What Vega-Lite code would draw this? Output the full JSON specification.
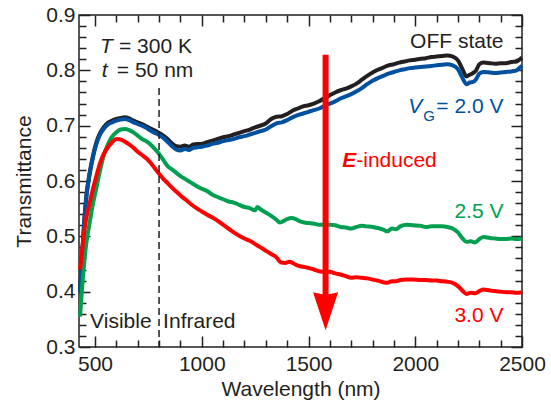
{
  "$schema": "https://vega.github.io/schema/vega-lite/v6.json",
  "width": 443,
  "height": 332,
  "autosize": "none",
  "padding": {"left": 79, "top": 15, "right": 29, "bottom": 59},
  "background": "white",
  "config": {
    "view": {"stroke": "#231f20", "strokeWidth": 1.5},
    "font": "Liberation Sans",
    "axis": {
      "domain": false,
      "grid": false,
      "tickColor": "#231f20",
      "tickWidth": 1.5,
      "labelColor": "#231f20",
      "labelFont": "Liberation Sans",
      "labelFontSize": 21,
      "titleFont": "Liberation Sans",
      "titleFontSize": 21,
      "titleFontWeight": "normal",
      "titleColor": "#231f20",
      "labelOverlap": false,
      "labelFlush": false,
      "labelBound": false
    }
  },
  "datasets": {
    "one": [{}],
    "curves": [
    {"s":"a","wl":430,"v":0.40},{"s":"a","wl":440,"v":0.47},{"s":"a","wl":450,"v":0.53},{"s":"a","wl":460,"v":0.575},{"s":"a","wl":475,"v":0.615},{"s":"a","wl":490,"v":0.645},{"s":"a","wl":505,"v":0.668},{"s":"a","wl":520,"v":0.684},{"s":"a","wl":540,"v":0.697},{"s":"a","wl":560,"v":0.705},{"s":"a","wl":580,"v":0.709},{"s":"a","wl":600,"v":0.712},{"s":"a","wl":620,"v":0.714},{"s":"a","wl":640,"v":0.715},{"s":"a","wl":660,"v":0.713},{"s":"a","wl":680,"v":0.709},{"s":"a","wl":700,"v":0.706},{"s":"a","wl":720,"v":0.703},{"s":"a","wl":740,"v":0.699},{"s":"a","wl":760,"v":0.695},{"s":"a","wl":780,"v":0.691},{"s":"a","wl":800,"v":0.687},{"s":"a","wl":820,"v":0.682},{"s":"a","wl":840,"v":0.676},{"s":"a","wl":860,"v":0.668},{"s":"a","wl":880,"v":0.663},{"s":"a","wl":900,"v":0.662},{"s":"a","wl":920,"v":0.664},{"s":"a","wl":940,"v":0.662},{"s":"a","wl":960,"v":0.666},{"s":"a","wl":980,"v":0.667},{"s":"a","wl":1000,"v":0.667},{"s":"a","wl":1025,"v":0.670},{"s":"a","wl":1050,"v":0.673},{"s":"a","wl":1075,"v":0.676},{"s":"a","wl":1100,"v":0.679},{"s":"a","wl":1125,"v":0.681},{"s":"a","wl":1150,"v":0.684},{"s":"a","wl":1175,"v":0.687},{"s":"a","wl":1200,"v":0.690},{"s":"a","wl":1225,"v":0.693},{"s":"a","wl":1250,"v":0.697},{"s":"a","wl":1275,"v":0.700},{"s":"a","wl":1300,"v":0.704},{"s":"a","wl":1325,"v":0.712},{"s":"a","wl":1350,"v":0.716},{"s":"a","wl":1375,"v":0.717},{"s":"a","wl":1400,"v":0.721},{"s":"a","wl":1425,"v":0.727},{"s":"a","wl":1450,"v":0.731},{"s":"a","wl":1475,"v":0.735},{"s":"a","wl":1500,"v":0.737},{"s":"a","wl":1525,"v":0.740},{"s":"a","wl":1550,"v":0.744},{"s":"a","wl":1575,"v":0.750},{"s":"a","wl":1600,"v":0.755},{"s":"a","wl":1625,"v":0.760},{"s":"a","wl":1650,"v":0.764},{"s":"a","wl":1675,"v":0.767},{"s":"a","wl":1700,"v":0.771},{"s":"a","wl":1725,"v":0.776},{"s":"a","wl":1750,"v":0.783},{"s":"a","wl":1775,"v":0.790},{"s":"a","wl":1800,"v":0.796},{"s":"a","wl":1825,"v":0.801},{"s":"a","wl":1850,"v":0.805},{"s":"a","wl":1875,"v":0.809},{"s":"a","wl":1900,"v":0.811},{"s":"a","wl":1925,"v":0.814},{"s":"a","wl":1950,"v":0.816},{"s":"a","wl":1975,"v":0.818},{"s":"a","wl":2000,"v":0.819},{"s":"a","wl":2025,"v":0.821},{"s":"a","wl":2050,"v":0.822},{"s":"a","wl":2075,"v":0.824},{"s":"a","wl":2100,"v":0.825},{"s":"a","wl":2125,"v":0.826},{"s":"a","wl":2150,"v":0.827},{"s":"a","wl":2175,"v":0.825},{"s":"a","wl":2200,"v":0.818},{"s":"a","wl":2220,"v":0.803},{"s":"a","wl":2240,"v":0.789},{"s":"a","wl":2255,"v":0.792},{"s":"a","wl":2270,"v":0.795},{"s":"a","wl":2285,"v":0.800},{"s":"a","wl":2300,"v":0.811},{"s":"a","wl":2320,"v":0.814},{"s":"a","wl":2350,"v":0.813},{"s":"a","wl":2375,"v":0.812},{"s":"a","wl":2400,"v":0.813},{"s":"a","wl":2425,"v":0.813},{"s":"a","wl":2450,"v":0.815},{"s":"a","wl":2475,"v":0.816},{"s":"a","wl":2490,"v":0.820},{"s":"a","wl":2500,"v":0.823},
    {"s":"b","wl":430,"v":0.40},{"s":"b","wl":440,"v":0.468},{"s":"b","wl":450,"v":0.528},{"s":"b","wl":460,"v":0.572},{"s":"b","wl":475,"v":0.612},{"s":"b","wl":490,"v":0.642},{"s":"b","wl":505,"v":0.665},{"s":"b","wl":520,"v":0.681},{"s":"b","wl":540,"v":0.694},{"s":"b","wl":560,"v":0.702},{"s":"b","wl":580,"v":0.706},{"s":"b","wl":600,"v":0.709},{"s":"b","wl":620,"v":0.711},{"s":"b","wl":640,"v":0.712},{"s":"b","wl":660,"v":0.710},{"s":"b","wl":680,"v":0.706},{"s":"b","wl":700,"v":0.703},{"s":"b","wl":720,"v":0.700},{"s":"b","wl":740,"v":0.696},{"s":"b","wl":760,"v":0.691},{"s":"b","wl":780,"v":0.687},{"s":"b","wl":800,"v":0.683},{"s":"b","wl":820,"v":0.678},{"s":"b","wl":840,"v":0.671},{"s":"b","wl":860,"v":0.663},{"s":"b","wl":880,"v":0.657},{"s":"b","wl":900,"v":0.655},{"s":"b","wl":920,"v":0.658},{"s":"b","wl":940,"v":0.656},{"s":"b","wl":960,"v":0.660},{"s":"b","wl":980,"v":0.661},{"s":"b","wl":1000,"v":0.662},{"s":"b","wl":1025,"v":0.664},{"s":"b","wl":1050,"v":0.667},{"s":"b","wl":1075,"v":0.669},{"s":"b","wl":1100,"v":0.672},{"s":"b","wl":1125,"v":0.674},{"s":"b","wl":1150,"v":0.676},{"s":"b","wl":1175,"v":0.679},{"s":"b","wl":1200,"v":0.681},{"s":"b","wl":1225,"v":0.684},{"s":"b","wl":1250,"v":0.687},{"s":"b","wl":1275,"v":0.690},{"s":"b","wl":1300,"v":0.693},{"s":"b","wl":1325,"v":0.699},{"s":"b","wl":1350,"v":0.704},{"s":"b","wl":1375,"v":0.706},{"s":"b","wl":1400,"v":0.710},{"s":"b","wl":1425,"v":0.715},{"s":"b","wl":1450,"v":0.719},{"s":"b","wl":1475,"v":0.722},{"s":"b","wl":1500,"v":0.725},{"s":"b","wl":1525,"v":0.728},{"s":"b","wl":1550,"v":0.731},{"s":"b","wl":1575,"v":0.736},{"s":"b","wl":1600,"v":0.740},{"s":"b","wl":1625,"v":0.744},{"s":"b","wl":1650,"v":0.749},{"s":"b","wl":1675,"v":0.753},{"s":"b","wl":1700,"v":0.757},{"s":"b","wl":1725,"v":0.762},{"s":"b","wl":1750,"v":0.768},{"s":"b","wl":1775,"v":0.775},{"s":"b","wl":1800,"v":0.781},{"s":"b","wl":1825,"v":0.786},{"s":"b","wl":1850,"v":0.790},{"s":"b","wl":1875,"v":0.794},{"s":"b","wl":1900,"v":0.797},{"s":"b","wl":1925,"v":0.800},{"s":"b","wl":1950,"v":0.802},{"s":"b","wl":1975,"v":0.804},{"s":"b","wl":2000,"v":0.805},{"s":"b","wl":2025,"v":0.806},{"s":"b","wl":2050,"v":0.807},{"s":"b","wl":2075,"v":0.808},{"s":"b","wl":2100,"v":0.809},{"s":"b","wl":2125,"v":0.810},{"s":"b","wl":2150,"v":0.811},{"s":"b","wl":2175,"v":0.809},{"s":"b","wl":2200,"v":0.802},{"s":"b","wl":2220,"v":0.787},{"s":"b","wl":2240,"v":0.775},{"s":"b","wl":2255,"v":0.778},{"s":"b","wl":2270,"v":0.779},{"s":"b","wl":2285,"v":0.784},{"s":"b","wl":2300,"v":0.794},{"s":"b","wl":2320,"v":0.797},{"s":"b","wl":2350,"v":0.796},{"s":"b","wl":2375,"v":0.795},{"s":"b","wl":2400,"v":0.796},{"s":"b","wl":2425,"v":0.797},{"s":"b","wl":2450,"v":0.798},{"s":"b","wl":2475,"v":0.800},{"s":"b","wl":2490,"v":0.805},{"s":"b","wl":2500,"v":0.808},
    {"s":"c","wl":430,"v":0.355},{"s":"c","wl":440,"v":0.41},{"s":"c","wl":450,"v":0.455},{"s":"c","wl":460,"v":0.49},{"s":"c","wl":475,"v":0.525},{"s":"c","wl":490,"v":0.558},{"s":"c","wl":505,"v":0.585},{"s":"c","wl":520,"v":0.613},{"s":"c","wl":540,"v":0.645},{"s":"c","wl":560,"v":0.666},{"s":"c","wl":580,"v":0.680},{"s":"c","wl":600,"v":0.688},{"s":"c","wl":620,"v":0.693},{"s":"c","wl":640,"v":0.694},{"s":"c","wl":660,"v":0.692},{"s":"c","wl":680,"v":0.688},{"s":"c","wl":700,"v":0.682},{"s":"c","wl":720,"v":0.676},{"s":"c","wl":740,"v":0.672},{"s":"c","wl":760,"v":0.666},{"s":"c","wl":780,"v":0.658},{"s":"c","wl":800,"v":0.649},{"s":"c","wl":820,"v":0.638},{"s":"c","wl":840,"v":0.627},{"s":"c","wl":860,"v":0.621},{"s":"c","wl":880,"v":0.615},{"s":"c","wl":900,"v":0.609},{"s":"c","wl":925,"v":0.603},{"s":"c","wl":950,"v":0.597},{"s":"c","wl":975,"v":0.591},{"s":"c","wl":1000,"v":0.586},{"s":"c","wl":1025,"v":0.582},{"s":"c","wl":1050,"v":0.575},{"s":"c","wl":1075,"v":0.571},{"s":"c","wl":1100,"v":0.567},{"s":"c","wl":1125,"v":0.563},{"s":"c","wl":1150,"v":0.561},{"s":"c","wl":1175,"v":0.557},{"s":"c","wl":1200,"v":0.553},{"s":"c","wl":1225,"v":0.551},{"s":"c","wl":1250,"v":0.547},{"s":"c","wl":1260,"v":0.553},{"s":"c","wl":1275,"v":0.549},{"s":"c","wl":1300,"v":0.543},{"s":"c","wl":1325,"v":0.537},{"s":"c","wl":1350,"v":0.530},{"s":"c","wl":1365,"v":0.525},{"s":"c","wl":1380,"v":0.527},{"s":"c","wl":1400,"v":0.531},{"s":"c","wl":1420,"v":0.533},{"s":"c","wl":1440,"v":0.531},{"s":"c","wl":1460,"v":0.527},{"s":"c","wl":1480,"v":0.525},{"s":"c","wl":1500,"v":0.524},{"s":"c","wl":1525,"v":0.523},{"s":"c","wl":1550,"v":0.521},{"s":"c","wl":1575,"v":0.521},{"s":"c","wl":1600,"v":0.521},{"s":"c","wl":1625,"v":0.520},{"s":"c","wl":1650,"v":0.517},{"s":"c","wl":1675,"v":0.516},{"s":"c","wl":1700,"v":0.514},{"s":"c","wl":1725,"v":0.517},{"s":"c","wl":1750,"v":0.519},{"s":"c","wl":1775,"v":0.518},{"s":"c","wl":1800,"v":0.517},{"s":"c","wl":1825,"v":0.515},{"s":"c","wl":1850,"v":0.512},{"s":"c","wl":1870,"v":0.509},{"s":"c","wl":1890,"v":0.514},{"s":"c","wl":1910,"v":0.513},{"s":"c","wl":1930,"v":0.518},{"s":"c","wl":1960,"v":0.521},{"s":"c","wl":1990,"v":0.520},{"s":"c","wl":2025,"v":0.519},{"s":"c","wl":2050,"v":0.517},{"s":"c","wl":2075,"v":0.518},{"s":"c","wl":2100,"v":0.518},{"s":"c","wl":2125,"v":0.518},{"s":"c","wl":2150,"v":0.517},{"s":"c","wl":2175,"v":0.514},{"s":"c","wl":2200,"v":0.507},{"s":"c","wl":2220,"v":0.497},{"s":"c","wl":2240,"v":0.490},{"s":"c","wl":2260,"v":0.491},{"s":"c","wl":2280,"v":0.489},{"s":"c","wl":2300,"v":0.495},{"s":"c","wl":2320,"v":0.499},{"s":"c","wl":2350,"v":0.497},{"s":"c","wl":2375,"v":0.496},{"s":"c","wl":2400,"v":0.495},{"s":"c","wl":2425,"v":0.495},{"s":"c","wl":2450,"v":0.496},{"s":"c","wl":2475,"v":0.495},{"s":"c","wl":2500,"v":0.496},
    {"s":"d","wl":430,"v":0.44},{"s":"d","wl":440,"v":0.475},{"s":"d","wl":450,"v":0.51},{"s":"d","wl":460,"v":0.535},{"s":"d","wl":475,"v":0.56},{"s":"d","wl":490,"v":0.585},{"s":"d","wl":505,"v":0.607},{"s":"d","wl":520,"v":0.628},{"s":"d","wl":540,"v":0.648},{"s":"d","wl":560,"v":0.661},{"s":"d","wl":580,"v":0.670},{"s":"d","wl":600,"v":0.676},{"s":"d","wl":620,"v":0.675},{"s":"d","wl":640,"v":0.671},{"s":"d","wl":660,"v":0.666},{"s":"d","wl":680,"v":0.660},{"s":"d","wl":700,"v":0.653},{"s":"d","wl":720,"v":0.647},{"s":"d","wl":740,"v":0.641},{"s":"d","wl":760,"v":0.633},{"s":"d","wl":780,"v":0.623},{"s":"d","wl":800,"v":0.613},{"s":"d","wl":820,"v":0.604},{"s":"d","wl":840,"v":0.596},{"s":"d","wl":860,"v":0.588},{"s":"d","wl":880,"v":0.581},{"s":"d","wl":900,"v":0.574},{"s":"d","wl":925,"v":0.566},{"s":"d","wl":950,"v":0.558},{"s":"d","wl":975,"v":0.551},{"s":"d","wl":1000,"v":0.545},{"s":"d","wl":1025,"v":0.539},{"s":"d","wl":1050,"v":0.534},{"s":"d","wl":1075,"v":0.528},{"s":"d","wl":1100,"v":0.521},{"s":"d","wl":1125,"v":0.514},{"s":"d","wl":1150,"v":0.507},{"s":"d","wl":1175,"v":0.501},{"s":"d","wl":1200,"v":0.496},{"s":"d","wl":1225,"v":0.492},{"s":"d","wl":1250,"v":0.486},{"s":"d","wl":1275,"v":0.480},{"s":"d","wl":1300,"v":0.474},{"s":"d","wl":1325,"v":0.468},{"s":"d","wl":1350,"v":0.462},{"s":"d","wl":1370,"v":0.453},{"s":"d","wl":1390,"v":0.452},{"s":"d","wl":1410,"v":0.454},{"s":"d","wl":1430,"v":0.451},{"s":"d","wl":1450,"v":0.447},{"s":"d","wl":1475,"v":0.445},{"s":"d","wl":1500,"v":0.443},{"s":"d","wl":1525,"v":0.440},{"s":"d","wl":1550,"v":0.437},{"s":"d","wl":1575,"v":0.436},{"s":"d","wl":1600,"v":0.436},{"s":"d","wl":1625,"v":0.433},{"s":"d","wl":1650,"v":0.431},{"s":"d","wl":1675,"v":0.428},{"s":"d","wl":1700,"v":0.425},{"s":"d","wl":1725,"v":0.426},{"s":"d","wl":1750,"v":0.425},{"s":"d","wl":1775,"v":0.424},{"s":"d","wl":1800,"v":0.422},{"s":"d","wl":1825,"v":0.420},{"s":"d","wl":1850,"v":0.417},{"s":"d","wl":1870,"v":0.416},{"s":"d","wl":1890,"v":0.419},{"s":"d","wl":1910,"v":0.419},{"s":"d","wl":1930,"v":0.421},{"s":"d","wl":1960,"v":0.422},{"s":"d","wl":1990,"v":0.422},{"s":"d","wl":2025,"v":0.421},{"s":"d","wl":2050,"v":0.421},{"s":"d","wl":2075,"v":0.420},{"s":"d","wl":2100,"v":0.420},{"s":"d","wl":2125,"v":0.419},{"s":"d","wl":2150,"v":0.418},{"s":"d","wl":2175,"v":0.416},{"s":"d","wl":2200,"v":0.410},{"s":"d","wl":2220,"v":0.402},{"s":"d","wl":2240,"v":0.396},{"s":"d","wl":2260,"v":0.398},{"s":"d","wl":2280,"v":0.397},{"s":"d","wl":2300,"v":0.401},{"s":"d","wl":2320,"v":0.404},{"s":"d","wl":2350,"v":0.402},{"s":"d","wl":2375,"v":0.401},{"s":"d","wl":2400,"v":0.400},{"s":"d","wl":2425,"v":0.399},{"s":"d","wl":2450,"v":0.399},{"s":"d","wl":2475,"v":0.398},{"s":"d","wl":2500,"v":0.399}
  ]},
  "resolve": {"axis": {"x": "independent", "y": "independent"}},
  "layer": [
    {
      "data": {"name": "curves"},
      "mark": {"type": "line", "strokeWidth": 4, "interpolate": "monotone"},
      "encoding": {
        "x": {"field": "wl", "type": "quantitative",
          "scale": {"domain": [425, 2500], "nice": false, "zero": false},
          "axis": {"orient": "bottom", "title": "Wavelength (nm)", "format": "d",
            "values": [500,600,700,800,900,1000,1100,1200,1300,1400,1500,1600,1700,1800,1900,2000,2100,2200,2300,2400,2500],
            "tickSize": {"condition": {"test": "datum.value % 500 === 0", "value": -11}, "value": -7},
            "labelExpr": "datum.value % 500 === 0 ? datum.label : ''",
            "labelPadding": 17,
            "titleY": 48, "titleBaseline": "alphabetic"}},
        "y": {"field": "v", "type": "quantitative",
          "scale": {"domain": [0.3, 0.9], "nice": false, "zero": false},
          "axis": {"orient": "left", "title": "Transmittance", "format": ".1f",
            "values": [0.3,0.32,0.34,0.36,0.38,0.4,0.42,0.44,0.46,0.48,0.5,0.52,0.54,0.56,0.58,0.6,0.62,0.64,0.66,0.68,0.7,0.72,0.74,0.76,0.78,0.8,0.82,0.84,0.86,0.88,0.9],
            "tickSize": {"condition": {"test": "abs(datum.value*10 - round(datum.value*10)) < 0.001", "value": -11}, "value": -7},
            "labelExpr": "abs(datum.value*10 - round(datum.value*10)) < 0.001 ? datum.label : ''",
            "labelPadding": 15,
            "titleX": -49, "titleY": 166, "titleAngle": -90, "titleAlign": "center", "titleBaseline": "alphabetic"}},
        "color": {"field": "s", "type": "nominal", "legend": null,
          "scale": {"domain": ["a", "b", "c", "d"], "range": ["#231f20", "#0050a0", "#00a050", "#ff0000"]}}
      }
    },
    {
      "data": {"name": "curves"},
      "mark": {"type": "point", "opacity": 0},
      "encoding": {
        "x": {"field": "wl", "type": "quantitative",
          "axis": {"orient": "top", "title": null, "labels": false,
            "values": [500,600,700,800,900,1000,1100,1200,1300,1400,1500,1600,1700,1800,1900,2000,2100,2200,2300,2400,2500],
            "tickSize": {"condition": {"test": "datum.value % 500 === 0", "value": -11}, "value": -7}}},
        "y": {"field": "v", "type": "quantitative",
          "axis": {"orient": "right", "title": null, "labels": false,
            "values": [0.3,0.32,0.34,0.36,0.38,0.4,0.42,0.44,0.46,0.48,0.5,0.52,0.54,0.56,0.58,0.6,0.62,0.64,0.66,0.68,0.7,0.72,0.74,0.76,0.78,0.8,0.82,0.84,0.86,0.88,0.9],
            "tickSize": {"condition": {"test": "abs(datum.value*10 - round(datum.value*10)) < 0.001", "value": -11}, "value": -7}}}
      }
    },
    {
      "data": {"name": "one"},
      "mark": {"type": "rule", "color": "#231f20", "strokeWidth": 1.5, "strokeDash": [7, 4]},
      "encoding": {"x": {"datum": 800, "axis": null}, "y": {"datum": 0.768, "axis": null}, "y2": {"datum": 0.3}}
    },
    {
      "data": {"name": "one"},
      "mark": {"type": "rule", "color": "#ff0000", "strokeWidth": 6},
      "encoding": {"x": {"datum": 1580, "axis": null}, "y": {"datum": 0.828, "axis": null}, "y2": {"datum": 0.38}}
    },
    {
      "data": {"name": "one"},
      "mark": {"type": "point", "shape": "M-0.66,-1L0,-0.85L0.66,-1L0,1Z", "size": 1444, "filled": true, "fill": "#ff0000", "strokeWidth": 0, "opacity": 1},
      "encoding": {"x": {"datum": 1580, "axis": null}, "y": {"datum": 0.3646, "axis": null}}
    },
    {
      "data": {"name": "one"},
      "mark": {"type": "text", "text": "T", "fontStyle": "italic", "fontSize": 21, "align": "left", "baseline": "alphabetic", "fill": "#231f20"},
      "encoding": {"x": {"datum": 523, "axis": null}, "y": {"datum": 0.831, "axis": null}}
    },
    {
      "data": {"name": "one"},
      "mark": {"type": "text", "text": "= 300 K", "fontSize": 21, "align": "left", "baseline": "alphabetic", "fill": "#231f20", "dx": 19},
      "encoding": {"x": {"datum": 523, "axis": null}, "y": {"datum": 0.831, "axis": null}}
    },
    {
      "data": {"name": "one"},
      "mark": {"type": "text", "text": "t", "fontStyle": "italic", "fontSize": 21, "align": "left", "baseline": "alphabetic", "fill": "#231f20"},
      "encoding": {"x": {"datum": 532, "axis": null}, "y": {"datum": 0.788, "axis": null}}
    },
    {
      "data": {"name": "one"},
      "mark": {"type": "text", "text": "= 50 nm", "fontSize": 21, "align": "left", "baseline": "alphabetic", "fill": "#231f20", "dx": 15},
      "encoding": {"x": {"datum": 532, "axis": null}, "y": {"datum": 0.788, "axis": null}}
    },
    {
      "data": {"name": "one"},
      "mark": {"type": "text", "text": "OFF state", "fontSize": 21, "align": "right", "baseline": "alphabetic", "fill": "#231f20"},
      "encoding": {"x": {"datum": 2413, "axis": null}, "y": {"datum": 0.840, "axis": null}}
    },
    {
      "data": {"name": "one"},
      "mark": {"type": "text", "text": "V", "fontStyle": "italic", "fontSize": 21, "align": "left", "baseline": "alphabetic", "fill": "#0050a0"},
      "encoding": {"x": {"datum": 1967, "axis": null}, "y": {"datum": 0.723, "axis": null}}
    },
    {
      "data": {"name": "one"},
      "mark": {"type": "text", "text": "G", "fontSize": 15, "align": "left", "baseline": "alphabetic", "fill": "#0050a0", "dx": 15},
      "encoding": {"x": {"datum": 1967, "axis": null}, "y": {"datum": 0.709, "axis": null}}
    },
    {
      "data": {"name": "one"},
      "mark": {"type": "text", "text": "= 2.0 V", "fontSize": 21, "align": "right", "baseline": "alphabetic", "fill": "#0050a0"},
      "encoding": {"x": {"datum": 2413, "axis": null}, "y": {"datum": 0.723, "axis": null}}
    },
    {
      "data": {"name": "one"},
      "mark": {"type": "text", "text": "E", "fontStyle": "italic", "fontWeight": "bold", "fontSize": 21, "align": "left", "baseline": "alphabetic", "fill": "#ff0000"},
      "encoding": {"x": {"datum": 1658, "axis": null}, "y": {"datum": 0.625, "axis": null}}
    },
    {
      "data": {"name": "one"},
      "mark": {"type": "text", "text": "-induced", "fontSize": 21, "align": "left", "baseline": "alphabetic", "fill": "#ff0000", "dx": 14},
      "encoding": {"x": {"datum": 1658, "axis": null}, "y": {"datum": 0.625, "axis": null}}
    },
    {
      "data": {"name": "one"},
      "mark": {"type": "text", "text": "2.5 V", "fontSize": 21, "align": "right", "baseline": "alphabetic", "fill": "#00a050"},
      "encoding": {"x": {"datum": 2413, "axis": null}, "y": {"datum": 0.533, "axis": null}}
    },
    {
      "data": {"name": "one"},
      "mark": {"type": "text", "text": "3.0 V", "fontSize": 21, "align": "right", "baseline": "alphabetic", "fill": "#ff0000"},
      "encoding": {"x": {"datum": 2413, "axis": null}, "y": {"datum": 0.345, "axis": null}}
    },
    {
      "data": {"name": "one"},
      "mark": {"type": "text", "text": "Visible", "fontSize": 21, "align": "left", "baseline": "alphabetic", "fill": "#231f20"},
      "encoding": {"x": {"datum": 477, "axis": null}, "y": {"datum": 0.334, "axis": null}}
    },
    {
      "data": {"name": "one"},
      "mark": {"type": "text", "text": "Infrared", "fontSize": 21, "align": "left", "baseline": "alphabetic", "fill": "#231f20"},
      "encoding": {"x": {"datum": 819, "axis": null}, "y": {"datum": 0.334, "axis": null}}
    }
  ]
}
